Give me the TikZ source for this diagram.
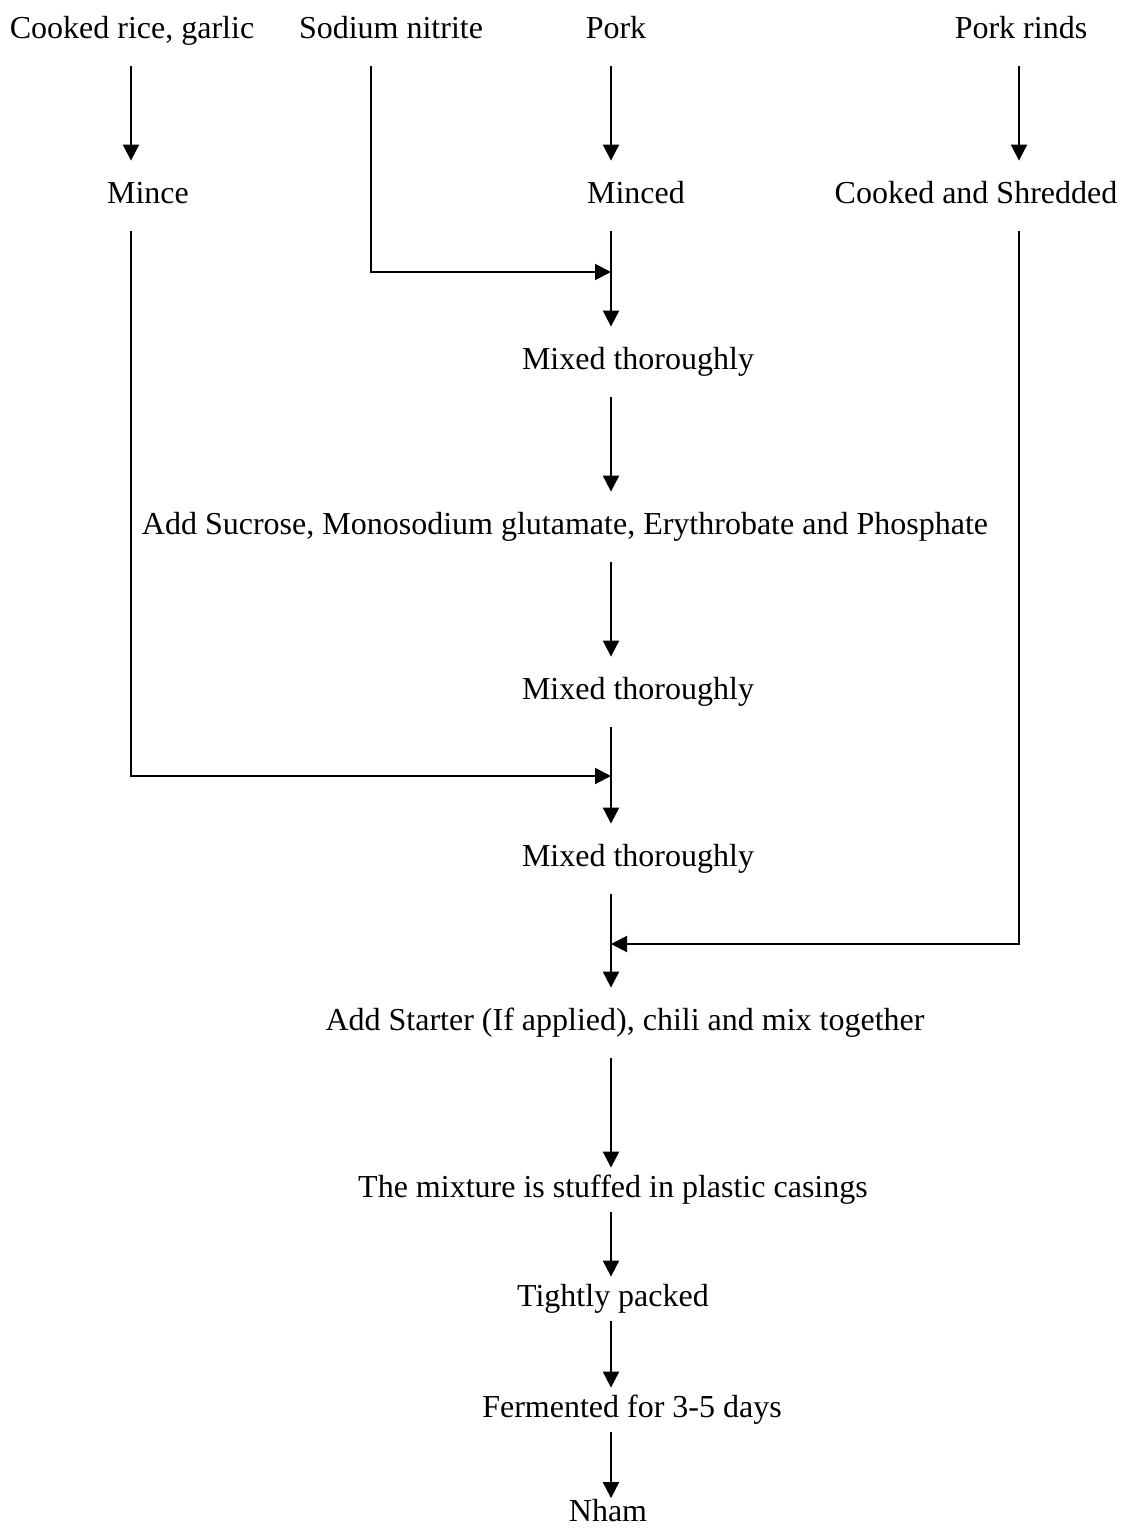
\documentclass[tikz,border=0pt]{standalone}
\usepackage{fontspec}
\setmainfont{Liberation Serif}
\usetikzlibrary{arrows.meta}

\begin{document}
\begin{tikzpicture}[x=0.5pt,y=-0.5pt,
        font=\fontsize{16pt}{19pt}\selectfont,
        stage/.style={inner sep=0pt, text height=11.5pt, text depth=4pt, minimum height=35pt},
        stagelo/.style={stage, minimum height=22pt},
        arr/.style={line width=1pt, -{Triangle[width=8pt,length=8pt]}}]
        \useasboundingbox (0,0) rectangle (1123,1530);

        % Columns and junctions
        \coordinate (colA)  at (131,0);
        \coordinate (colB)  at (371,0);
        \coordinate (spine) at (611,0);
        \coordinate (colD)  at (1019,0);
        \coordinate (jnit)   at (611,272);
        \coordinate (jmince) at (611,776);
        \coordinate (jrind)  at (611,944);

        % Raw materials
        \node[stage] (rice)   at (132,31)  {Cooked rice, garlic};
        \node[stage] (sodium) at (391,31)  {Sodium nitrite};
        \node[stage] (pork)   at (616,31)  {Pork};
        \node[stage] (rinds)  at (1021,31) {Pork rinds};

        % First treatment
        \node[stage] (mince)  at (148,196) {Mince};
        \node[stage] (minced) at (636,196) {Minced};
        \node[stage] (shred)  at (976,196) {Cooked and Shredded};

        % Main line
        \node[stage] (mixA)    at (638,362)  {Mixed thoroughly};
        \node[stage] (sucrose) at (565,527)  {Add Sucrose, Monosodium glutamate, Erythrobate and Phosphate};
        \node[stage] (mixB)    at (638,692)  {Mixed thoroughly};
        \node[stage] (mixC)    at (638,859)  {Mixed thoroughly};
        \node[stage] (starter) at (625,1023) {Add Starter (If applied), chili and mix together};
        \node[stagelo] (stuffed) at (613,1190) {The mixture is stuffed in plastic casings};
        \node[stagelo] (packed)  at (613,1299) {Tightly packed};
        \node[stagelo] (ferment) at (632,1410) {Fermented for 3-5 days};
        \node[stage, minimum height=0pt] (nham) at (608,1514) {Nham};

        % Top arrows
        \draw[arr] (rice.south -| colA)  -- (mince.north -| colA);
        \draw[arr] (pork.south -| spine) -- (minced.north -| spine);
        \draw[arr] (rinds.south -| colD) -- (shred.north -| colD);

        % Side feeds
        \draw[arr] (sodium.south -| colB) |- (jnit);
        \draw[arr] (mince.south -| colA)  |- (jmince);
        \draw[arr] (shred.south -| colD)  |- (jrind);

        % Spine arrows
        \draw[arr] (minced.south -| spine) -- (mixA.north -| spine);
        \draw[arr] (mixB.south -| spine)   -- (mixC.north -| spine);
        \draw[arr] (mixC.south -| spine)   -- (starter.north -| spine);
        \foreach \a/\b in {mixA/sucrose, sucrose/mixB, starter/stuffed, stuffed/packed, packed/ferment, ferment/nham}
            \draw[arr] (\a.south -| spine) -- (\b.north -| spine);
    \end{tikzpicture}
\end{document}
